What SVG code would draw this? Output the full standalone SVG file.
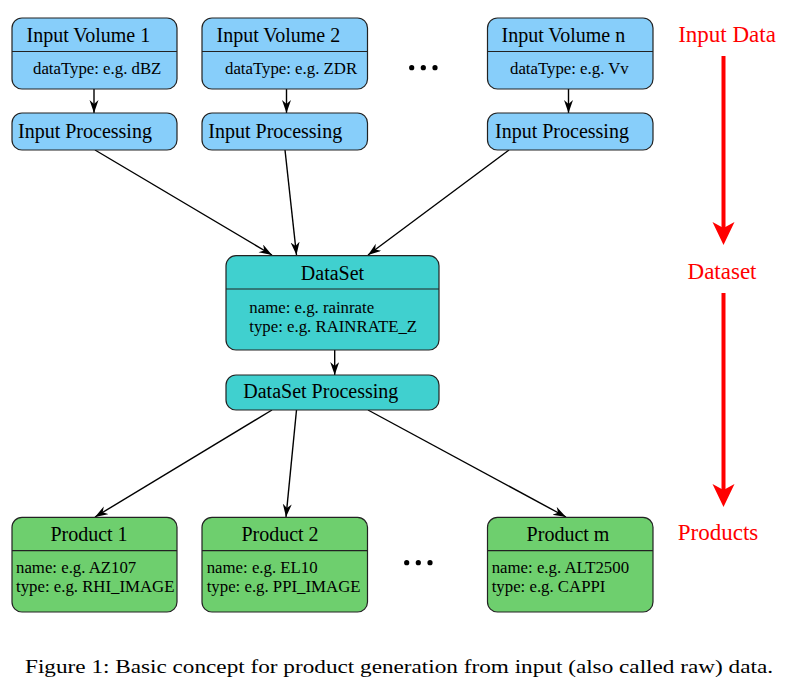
<svg xmlns="http://www.w3.org/2000/svg" width="793" height="684" viewBox="0 0 793 684">
<style>
.box{stroke:#222;stroke-width:1.2}
.in{fill:#87CEFA}
.ds{fill:#40D0CF}
.pr{fill:#6ECF6E}
.div{stroke:#222;stroke-width:1.2}
.t{font-family:"Liberation Serif",serif;font-size:20px;fill:#000}
.s{font-family:"Liberation Serif",serif;font-size:16.8px;fill:#000}
.r{font-family:"Liberation Serif",serif;font-size:23px;fill:#ff0000}
.e{stroke:#000;stroke-width:1.4;fill:none;marker-end:url(#vee)}
.cap{font-family:"Liberation Serif",serif;font-size:19px;fill:#000}
</style>
<defs>
<marker id="vee" markerUnits="userSpaceOnUse" markerWidth="14" markerHeight="10" refX="13" refY="4.5" orient="auto">
<path d="M0,0 L13,4.5 L0,9 L4,4.5 Z" fill="#000"/>
</marker>
</defs>
<rect width="793" height="684" fill="#fff"/>

<g id="connectors">
<line class="e" x1="94" y1="89" x2="94" y2="113"/>
<line class="e" x1="286.5" y1="89" x2="286.5" y2="113"/>
<line class="e" x1="568.5" y1="89" x2="568.5" y2="113"/>
<line class="e" x1="95" y1="150" x2="272" y2="255"/>
<line class="e" x1="285" y1="150" x2="296.5" y2="255"/>
<line class="e" x1="509" y1="150" x2="368" y2="255"/>
<line class="e" x1="334.7" y1="350" x2="334.7" y2="375"/>
<line class="e" x1="272" y1="410" x2="95" y2="517"/>
<line class="e" x1="296.5" y1="410" x2="286" y2="517"/>
<line class="e" x1="368" y1="410" x2="566" y2="517"/>
</g>

<g id="vol1">
<rect class="box in" x="12" y="18" width="165" height="71" rx="10"/>
<line class="div" x1="12" y1="51.5" x2="177" y2="51.5"/>
<text class="t" x="26.5" y="42">Input Volume 1</text>
<text class="s" x="33" y="74">dataType: e.g. dBZ</text>
</g>
<g id="vol2">
<rect class="box in" x="202" y="18" width="165.5" height="71" rx="10"/>
<line class="div" x1="202" y1="51.5" x2="367.5" y2="51.5"/>
<text class="t" x="216.5" y="42">Input Volume 2</text>
<text class="s" x="225" y="74">dataType: e.g. ZDR</text>
</g>
<g id="voln">
<rect class="box in" x="487.5" y="18" width="165.5" height="71" rx="10"/>
<line class="div" x1="487.5" y1="51.5" x2="653" y2="51.5"/>
<text class="t" x="501.5" y="42">Input Volume n</text>
<text class="s" x="510" y="74">dataType: e.g. Vv</text>
</g>
<g id="dots1">
<circle cx="411.7" cy="67.7" r="2.6" fill="#000"/>
<circle cx="423.3" cy="67.7" r="2.6" fill="#000"/>
<circle cx="435" cy="67.7" r="2.6" fill="#000"/>
</g>

<g id="proc1">
<rect class="box in" x="12" y="113" width="165" height="37" rx="10"/>
<text class="t" x="18" y="138">Input Processing</text>
</g>
<g id="proc2">
<rect class="box in" x="202" y="113" width="165.5" height="37" rx="10"/>
<text class="t" x="208.3" y="138">Input Processing</text>
</g>
<g id="procn">
<rect class="box in" x="487.5" y="113" width="165.5" height="37" rx="10"/>
<text class="t" x="495" y="138">Input Processing</text>
</g>

<g id="dataset">
<rect class="box ds" x="226" y="255.7" width="213" height="94.3" rx="10"/>
<line class="div" x1="226" y1="289" x2="439" y2="289"/>
<text class="t" x="332.5" y="280" text-anchor="middle">DataSet</text>
<text class="s" x="249.3" y="312.7">name: e.g. rainrate</text>
<text class="s" x="249.3" y="331.7">type: e.g. RAINRATE_Z</text>
</g>
<g id="dsproc">
<rect class="box ds" x="226" y="375" width="213" height="35" rx="10"/>
<text class="t" x="243.3" y="398">DataSet Processing</text>
</g>

<g id="prod1">
<rect class="box pr" x="12" y="517.3" width="165" height="94.7" rx="10"/>
<line class="div" x1="12" y1="550.7" x2="177" y2="550.7"/>
<text class="t" x="89" y="541" text-anchor="middle">Product 1</text>
<text class="s" x="16" y="573.3">name: e.g. AZ107</text>
<text class="s" x="16" y="592.3">type: e.g. RHI_IMAGE</text>
</g>
<g id="prod2">
<rect class="box pr" x="202" y="517.3" width="165.5" height="94.7" rx="10"/>
<line class="div" x1="202" y1="550.7" x2="367.5" y2="550.7"/>
<text class="t" x="280" y="541" text-anchor="middle">Product 2</text>
<text class="s" x="206.7" y="573.3">name: e.g. EL10</text>
<text class="s" x="206.7" y="592.3">type: e.g. PPI_IMAGE</text>
</g>
<g id="prodm">
<rect class="box pr" x="487.5" y="517.3" width="165.5" height="94.7" rx="10"/>
<line class="div" x1="487.5" y1="550.7" x2="653" y2="550.7"/>
<text class="t" x="568" y="541" text-anchor="middle">Product m</text>
<text class="s" x="491.7" y="573.3">name: e.g. ALT2500</text>
<text class="s" x="491.7" y="592.3">type: e.g. CAPPI</text>
</g>
<g id="dots2">
<circle cx="406.7" cy="562.7" r="2.6" fill="#000"/>
<circle cx="418.3" cy="562.7" r="2.6" fill="#000"/>
<circle cx="430" cy="562.7" r="2.6" fill="#000"/>
</g>

<g id="stages">
<text class="r" x="727" y="42" text-anchor="middle">Input Data</text>
<line x1="723.5" y1="56" x2="723.5" y2="228" stroke="#ff0000" stroke-width="4"/>
<path d="M712.5,222 L723.5,245 L734.5,222 L723.5,228 Z" fill="#ff0000"/>
<text class="r" x="722" y="279" text-anchor="middle">Dataset</text>
<line x1="723.5" y1="293" x2="723.5" y2="490" stroke="#ff0000" stroke-width="4"/>
<path d="M712.5,484 L723.5,507 L734.5,484 L723.5,490 Z" fill="#ff0000"/>
<text class="r" x="718" y="540" text-anchor="middle">Products</text>
</g>

<text class="cap" x="25" y="673" textLength="748" lengthAdjust="spacingAndGlyphs">Figure 1: Basic concept for product generation from input (also called raw) data.</text>
</svg>
